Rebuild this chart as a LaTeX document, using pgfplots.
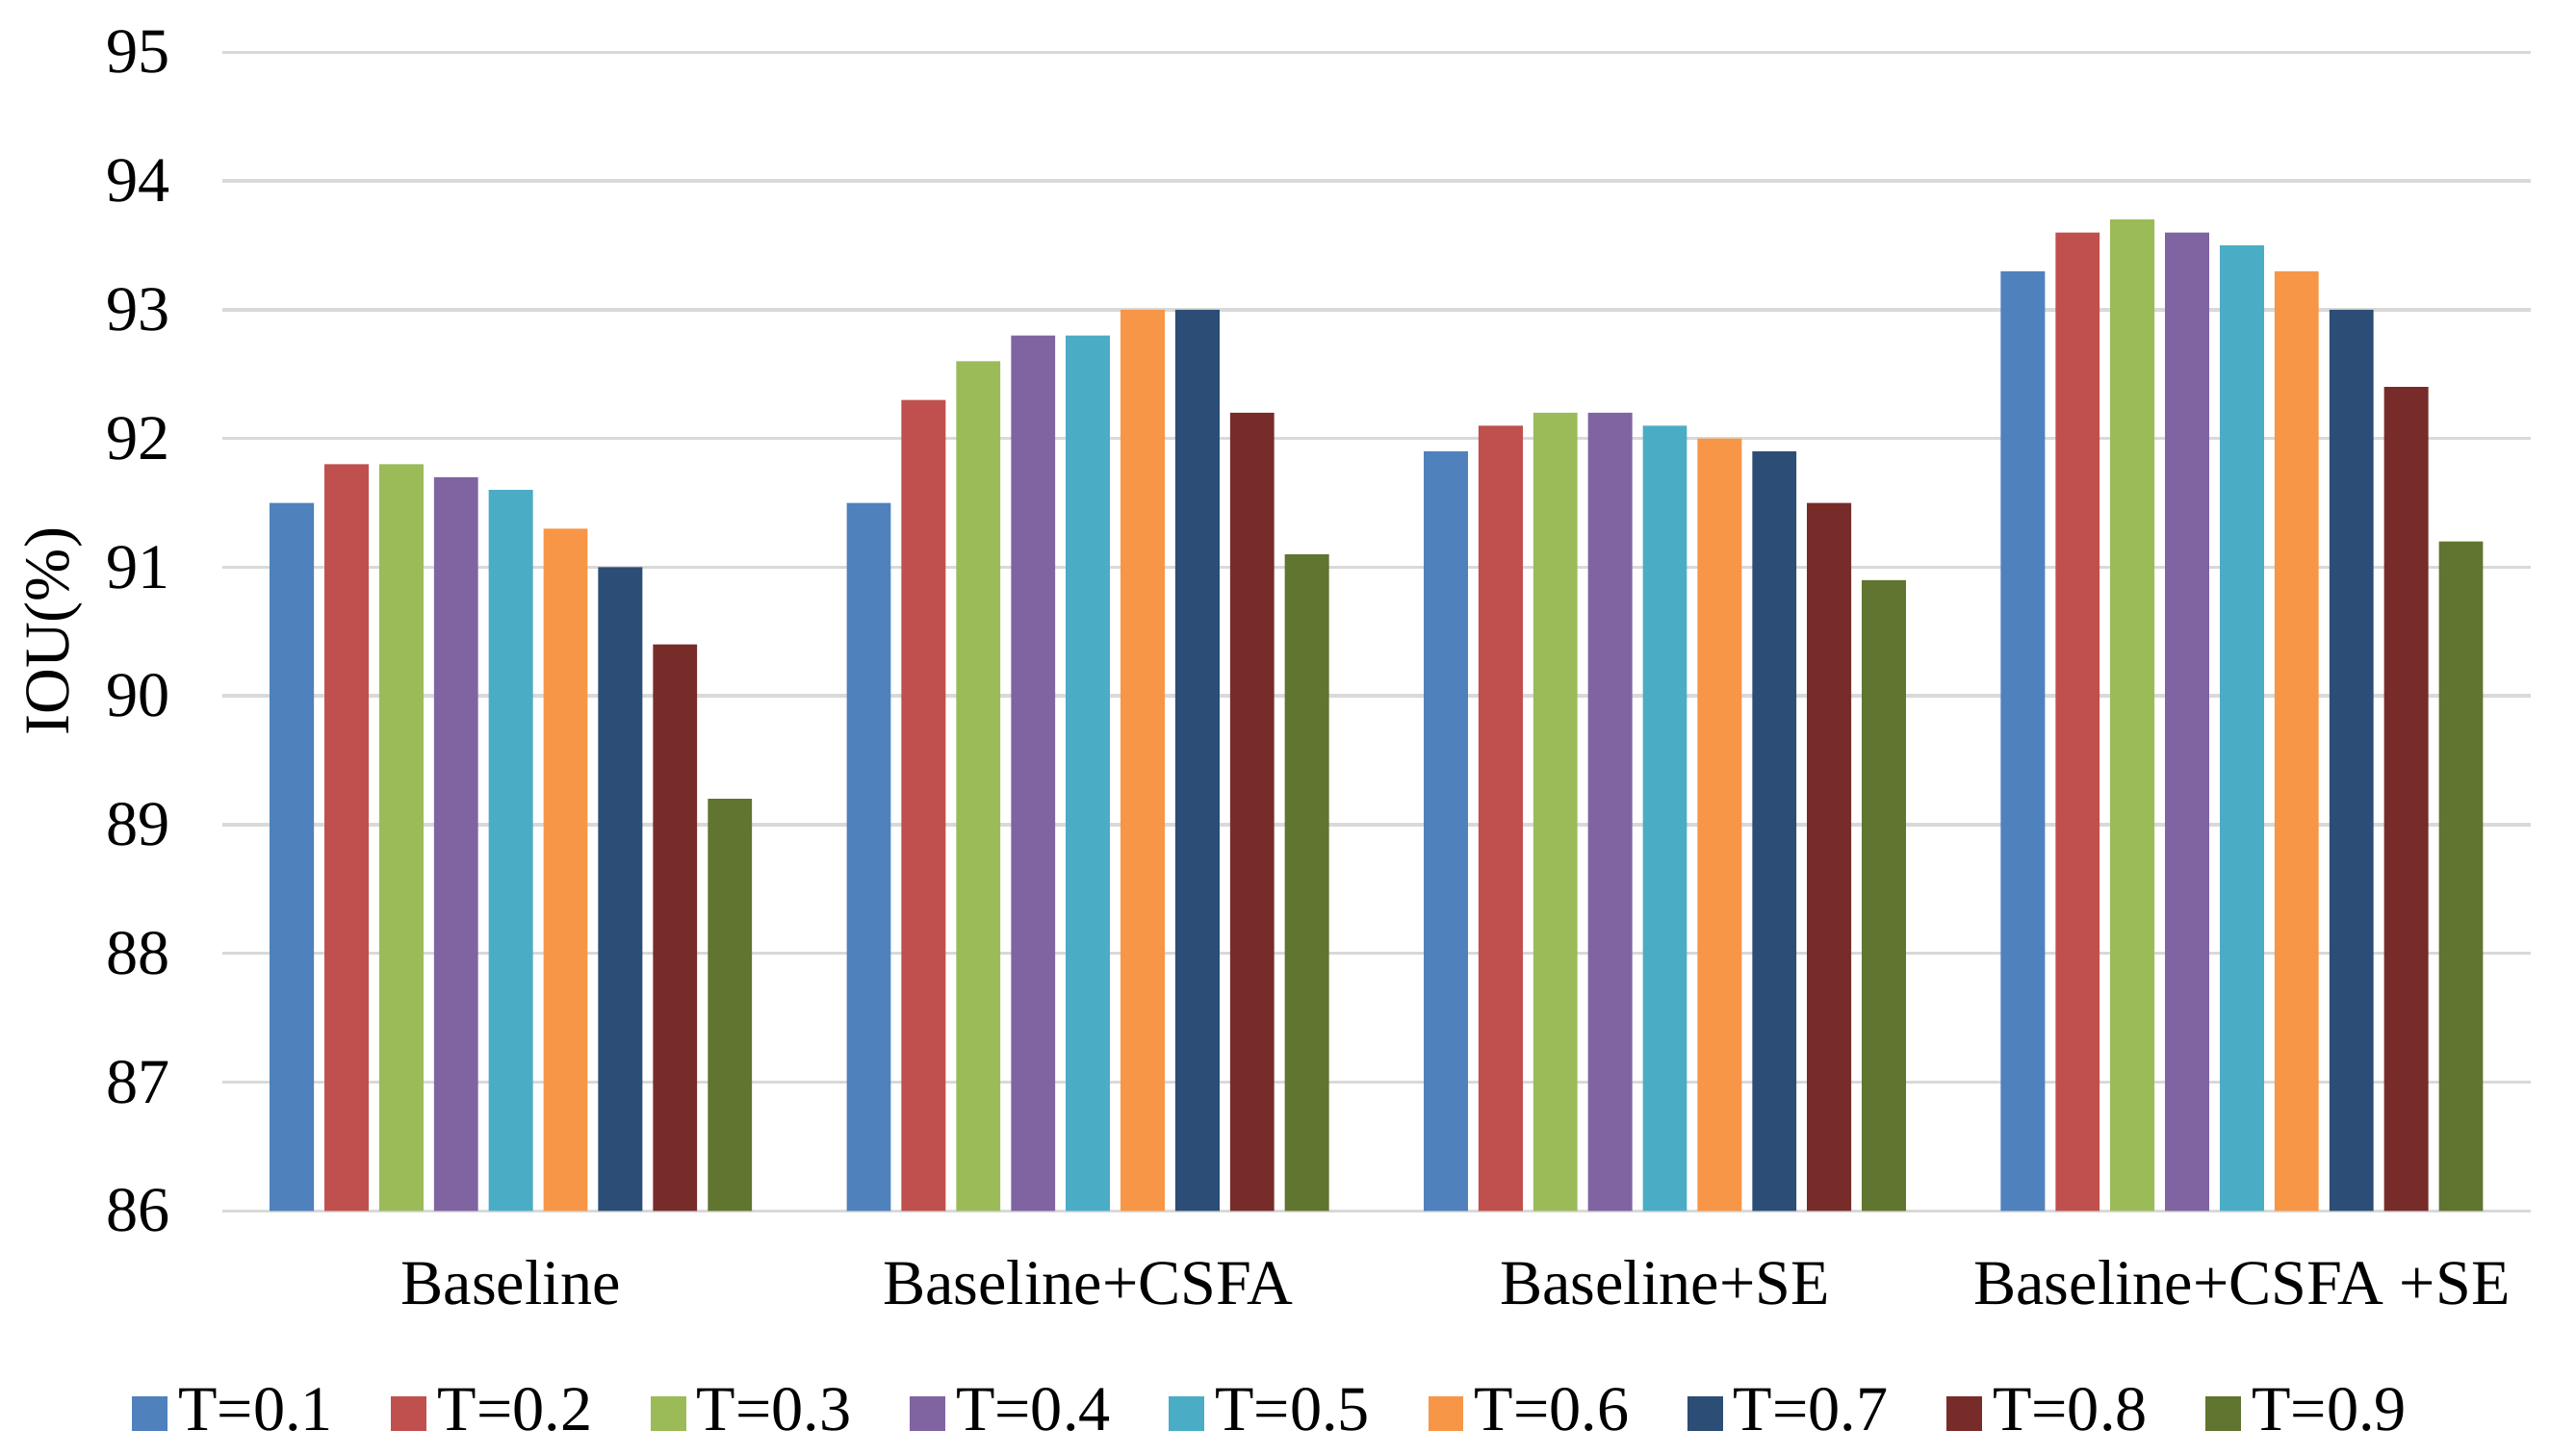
\documentclass[border=0pt]{standalone}
\usepackage{pgfplots}
\pgfplotsset{compat=1.18}
\usepackage{pgfplotstable}
\usepackage{fontspec}
\setmainfont{Liberation Serif}
\usetikzlibrary{calc}

\definecolor{c1}{HTML}{4F81BD}
\definecolor{c2}{HTML}{C0504D}
\definecolor{c3}{HTML}{9BBB59}
\definecolor{c4}{HTML}{8064A2}
\definecolor{c5}{HTML}{4BACC6}
\definecolor{c6}{HTML}{F79646}
\definecolor{c7}{HTML}{2C4D75}
\definecolor{c8}{HTML}{772C2A}
\definecolor{c9}{HTML}{5F7530}
\definecolor{gridgray}{HTML}{D9D9D9}

\pgfplotstableread{
x t1 t2 t3 t4 t5 t6 t7 t8 t9
0 91.5 91.8 91.8 91.7 91.6 91.3 91.0 90.4 89.2
1 91.5 92.3 92.6 92.8 92.8 93.0 93.0 92.2 91.1
2 91.9 92.1 92.2 92.2 92.1 92.0 91.9 91.5 90.9
3 93.3 93.6 93.7 93.6 93.5 93.3 93.0 92.4 91.2
}\iou

\begin{document}
\begin{tikzpicture}[font=\fontsize{11.7}{14}\selectfont]
\begin{axis}[
    name=ax,
    scale only axis,
    width=423.6pt, height=212.7pt,
    ybar=1.95pt, bar width=8.1pt,
    xmin=-0.5, xmax=3.5, enlarge x limits=false,
    ymin=86, ymax=95, ytick={86,...,95},
    xtick=data,
    xticklabels={Baseline, Baseline+CSFA, Baseline+SE, Baseline+CSFA +SE},
    /pgf/number format/assume math mode=true,
    ymajorgrids, major grid style={draw=gridgray, line width=0.6pt},
    axis line style={draw=none},
    major tick length=0pt,
    xticklabel style={yshift=-5.5pt},
    yticklabel style={xshift=-6pt},
    ylabel={IOU(\%)},
    every axis y label/.style={at={(axis description cs:0,0.5)}, xshift=-31pt, rotate=90, anchor=center},
    legend columns=9,
    legend image code/.code={\fill[#1] (0pt,-3.25pt) rectangle (6.5pt,3.25pt);},
    legend style={draw=none, fill=none, inner sep=0pt, at={(0.456,-0.175)}, anchor=center,
        /tikz/every even column/.append style={column sep=8.7pt},
        font=\fontsize{11.7}{14}\selectfont},
]
\addplot[fill=c1, draw=none] table[x=x, y=t1]{\iou};
\addplot[fill=c2, draw=none] table[x=x, y=t2]{\iou};
\addplot[fill=c3, draw=none] table[x=x, y=t3]{\iou};
\addplot[fill=c4, draw=none] table[x=x, y=t4]{\iou};
\addplot[fill=c5, draw=none] table[x=x, y=t5]{\iou};
\addplot[fill=c6, draw=none] table[x=x, y=t6]{\iou};
\addplot[fill=c7, draw=none] table[x=x, y=t7]{\iou};
\addplot[fill=c8, draw=none] table[x=x, y=t8]{\iou};
\addplot[fill=c9, draw=none] table[x=x, y=t9]{\iou};
\legend{T=0.1, T=0.2, T=0.3, T=0.4, T=0.5, T=0.6, T=0.7, T=0.8, T=0.9}
\end{axis}
\path ($(ax.south west)+(-40.8pt,-45pt)$) rectangle ($(ax.north east)+(3.6pt,9.6pt)$);
\end{tikzpicture}
\end{document}
